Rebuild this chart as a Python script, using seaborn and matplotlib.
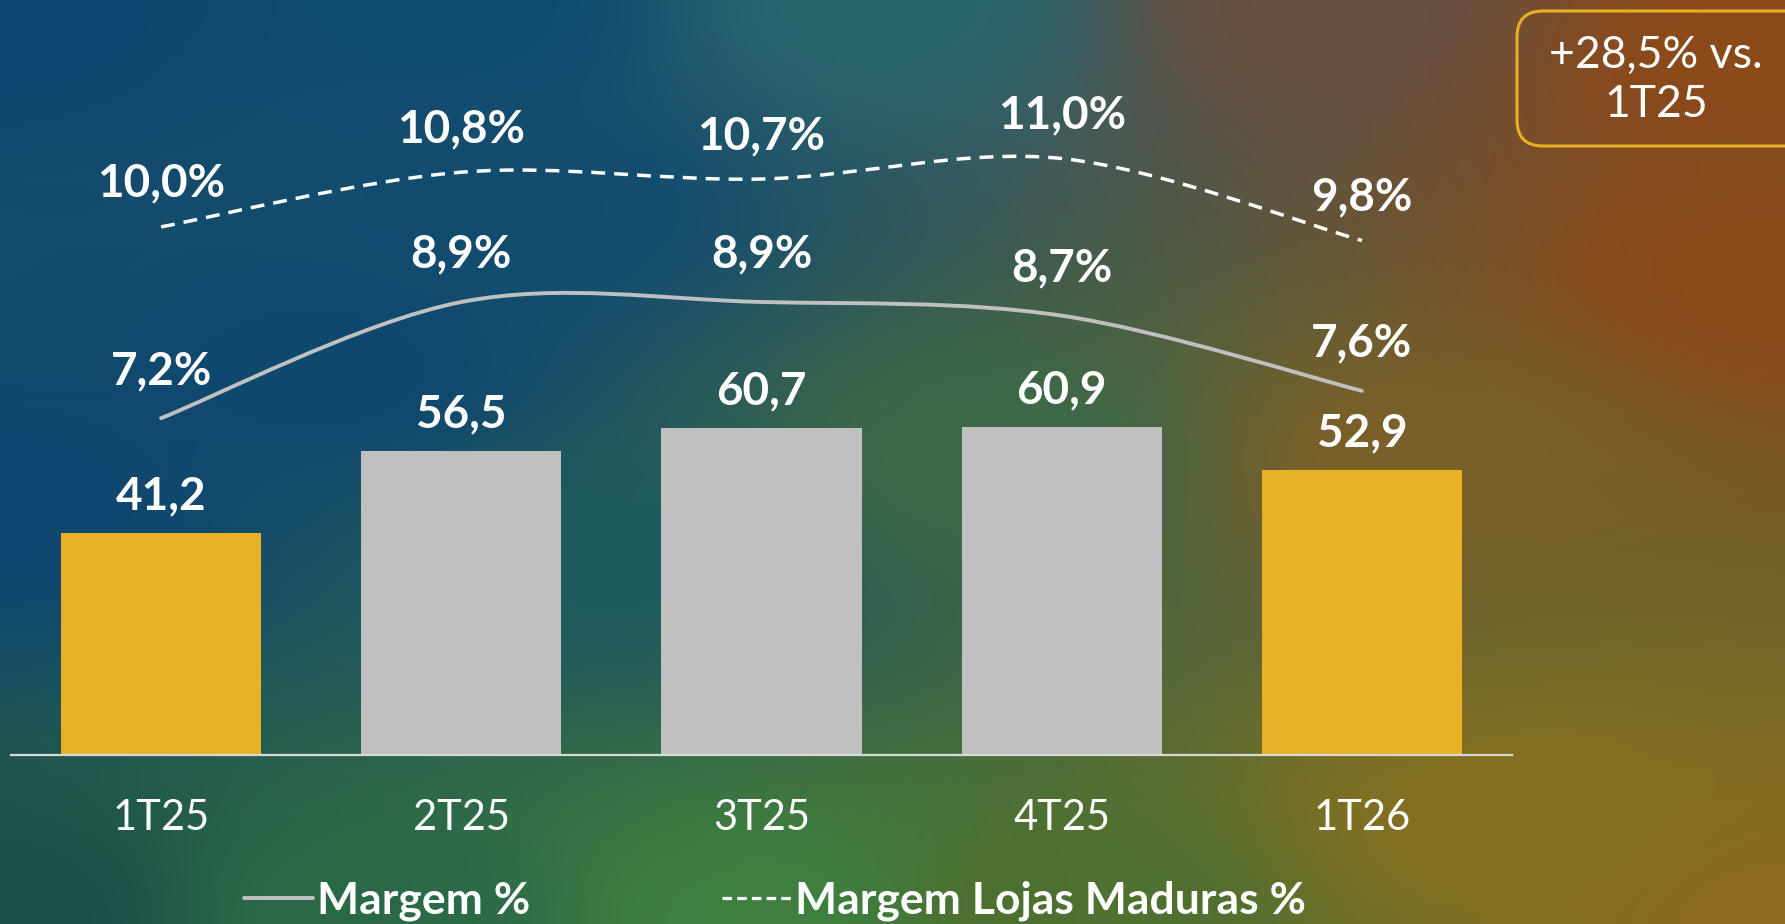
import numpy as np
import matplotlib
matplotlib.use("Agg")
import matplotlib.pyplot as plt
import seaborn as sns
from matplotlib.path import Path
from matplotlib.patches import PathPatch, FancyBboxPatch
from matplotlib.lines import Line2D
from matplotlib.transforms import IdentityTransform
from matplotlib.colors import to_rgb

# ---------------- data ----------------
categories = ["1T25", "2T25", "3T25", "4T25", "1T26"]
valores = [41.2, 56.5, 60.7, 60.9, 52.9]
valores_lbl = ["41,2", "56,5", "60,7", "60,9", "52,9"]
margem = [7.2, 8.9, 8.9, 8.7, 7.6]
margem_lbl = ["7,2%", "8,9%", "8,9%", "8,7%", "7,6%"]
margem_lojas = [10.0, 10.8, 10.7, 11.0, 9.8]
margem_lojas_lbl = ["10,0%", "10,8%", "10,7%", "11,0%", "9,8%"]
serie_solida = "Margem %"
serie_tracejada = "Margem Lojas Maduras %"
destaque = "+28,5% vs.\n1T25"

# ---------------- style ----------------
W, H = 1785, 924
GOLD = "#E8B024"
GRAY = "#C0C0C0"
bar_colors = [GOLD, GRAY, GRAY, GRAY, GOLD]

sns.set_theme(style="white")
plt.rcParams["font.family"] = ["Lato", "DejaVu Sans"]

fig = plt.figure(figsize=(W / 100, H / 100), dpi=100)

# background gradient (decorative)
anchors = [
    ((0.00, 0.00), "#0E4670"), ((0.25, 0.00), "#0F4A72"), ((0.00, 0.55), "#0E4670"),
    ((0.18, 0.40), "#0F4870"), ((0.28, 0.22), "#114C70"),
    ((0.50, 0.00), "#2A6670"), ((0.00, 1.00), "#1B5048"), ((0.20, 1.00), "#2A6A48"),
    ((0.42, 1.00), "#3E8040"), ((0.60, 1.00), "#4E7030"), ((0.35, 0.60), "#1E5A5E"),
    ((0.55, 0.50), "#3D6A48"), ((0.75, 0.00), "#6A5040"), ((0.98, 0.05), "#8B4A1A"),
    ((1.00, 0.30), "#8B4A1A"), ((0.80, 0.50), "#7A6028"), ((1.00, 1.00), "#8A6A1E"),
    ((0.85, 0.90), "#857020"),
]
gh, gw = 60, 116
uu, vv = np.meshgrid(np.linspace(0, 1, gw), np.linspace(0, 1, gh))
num = np.zeros((gh, gw, 3))
den = np.zeros((gh, gw))
for (au, av), c in anchors:
    d2 = (uu - au) ** 2 + (vv - av) ** 2 + 1e-4
    w = 1.0 / d2 ** 1.5
    num += w[..., None] * np.array(to_rgb(c))
    den += w
img = num / den[..., None]
bg = fig.add_axes([0, 0, 1, 1], zorder=0)
bg.imshow(img, aspect="auto", extent=[0, 1, 0, 1], origin="upper", interpolation="bicubic")
bg.axis("off")

# main axes
ax_left, ax_right, base_y = 11, 1512, 755
ax = fig.add_axes([ax_left / W, (H - base_y) / H, (ax_right - ax_left) / W, base_y / H], zorder=1)
ax.patch.set_alpha(0)

sns.barplot(x=categories, y=valores, hue=categories, palette=bar_colors,
            width=0.667, legend=False, ax=ax, saturation=1, edgecolor="none")
ax.set_xlim(-0.5, 4.5)
ax.set_ylim(0, 140.1)
ax.set_yticks([])
ax.set_xlabel("")
ax.set_ylabel("")
for s in ["top", "left", "right"]:
    ax.spines[s].set_visible(False)
ax.spines["bottom"].set_color("#D9D9D9")
ax.spines["bottom"].set_linewidth(1.6)
ax.tick_params(axis="x", length=0, pad=32, labelsize=30, labelcolor="white")

for i, (v, t) in enumerate(zip(valores, valores_lbl)):
    ax.annotate(t, (i, v), xytext=(0, 26), textcoords="offset points",
                ha="center", va="center", fontsize=33, fontweight="bold", color="white")

# secondary axis for margins
ax2 = ax.twinx()
ax2.set_ylim(2.27, 13.32)
ax2.set_yticks([])
for s in ax2.spines.values():
    s.set_visible(False)


def smooth_path(xs, ys):
    pts = np.column_stack([xs, ys]).astype(float)
    n = len(pts)
    verts = [pts[0]]
    codes = [Path.MOVETO]
    for i in range(n - 1):
        p_prev = pts[max(i - 1, 0)]
        p0, p1 = pts[i], pts[i + 1]
        p_next = pts[min(i + 2, n - 1)]
        c1 = p0 + (p1 - p_prev) / 6.0
        c2 = p1 - (p_next - p0) / 6.0
        verts += [c1, c2, p1]
        codes += [Path.CURVE4] * 3
    return Path(verts, codes)


xs = np.arange(len(categories))
ax2.add_patch(PathPatch(smooth_path(xs, margem), fill=False, ec=GRAY, lw=2.8,
                        capstyle="round"))
ax2.add_patch(PathPatch(smooth_path(xs, margem_lojas), fill=False, ec="white", lw=2.5,
                        linestyle=(0, (4, 2.6))))

for i, (v, t) in enumerate(zip(margem, margem_lbl)):
    ax2.annotate(t, (i, v), xytext=(0, 34), textcoords="offset points",
                 ha="center", va="center", fontsize=33, fontweight="bold", color="white")
for i, (v, t) in enumerate(zip(margem_lojas, margem_lojas_lbl)):
    ax2.annotate(t, (i, v), xytext=(0, 31), textcoords="offset points",
                 ha="center", va="center", fontsize=33, fontweight="bold", color="white")

# legend
handles = [Line2D([], [], color=GRAY, lw=2.8),
           Line2D([], [], color="white", lw=2.3, linestyle=(0, (3, 1.6)))]
fig.legend(handles, [serie_solida, serie_tracejada], loc="center",
           bbox_to_anchor=(775 / W, (H - 901) / H), ncol=2, frameon=False,
           handlelength=1.55, handletextpad=0.1, columnspacing=4.3,
           prop={"size": 32, "weight": "bold"}, labelcolor="white")

# highlight box
fig.patches.append(FancyBboxPatch((1517, H - 146), 320, 135,
                                  boxstyle="round,pad=0,rounding_size=26",
                                  ec=GOLD, fc="none", lw=2.2,
                                  transform=IdentityTransform(), figure=fig, zorder=3))
fig.text(1656 / W, (H - 80) / H, destaque, ha="center", va="center", fontsize=32,
         color="white", linespacing=1.25, zorder=4)

fig.savefig("out.png", dpi=100)
